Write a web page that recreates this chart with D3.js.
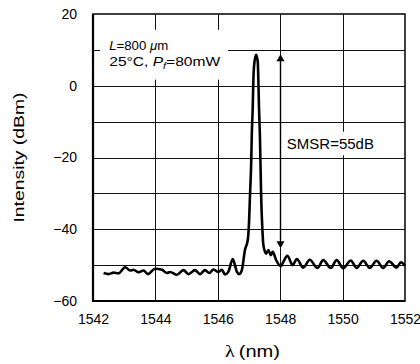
<!DOCTYPE html>
<html>
<head>
<meta charset="utf-8">
<script src="https://cdn.jsdelivr.net/npm/d3@7"></script>
<style>
  body { margin: 0; background: #fff; }
  text { font-family: Arial, "Liberation Sans", sans-serif; fill: #000; }
</style>
</head>
<body>
<div id="chart"></div>
<script>
// Spectrum
const wavelength = [
  1542.34, 1542.50, 1542.66, 1542.82, 1543.03, 1543.19, 1543.30, 1543.46, 1543.62, 1543.76,
  1543.99, 1544.21, 1544.37, 1544.47, 1544.69, 1544.90, 1545.06, 1545.27, 1545.43, 1545.59,
  1545.73, 1545.86, 1546.02, 1546.13, 1546.23, 1546.34, 1546.48, 1546.55, 1546.61, 1546.69,
  1546.77, 1546.87, 1546.96, 1547.00, 1547.03, 1547.07, 1547.09, 1547.12, 1547.14, 1547.17,
  1547.23, 1547.28, 1547.30, 1547.32, 1547.35, 1547.39, 1547.43, 1547.46, 1547.55, 1547.62,
  1547.70, 1547.76, 1547.87, 1548.02, 1548.10, 1548.23, 1548.40, 1548.53, 1548.74, 1548.95,
  1549.19, 1549.38, 1549.62, 1549.81, 1550.02, 1550.26, 1550.45, 1550.66, 1550.87, 1551.09,
  1551.30, 1551.49, 1551.73, 1551.87, 1552.00
];
const intensity = [
  -52.2, -52.5, -52.1, -52.3, -50.6, -51.5, -51.3, -52.0, -51.5, -52.5,
  -51.0, -51.3, -52.2, -51.9, -52.7, -51.4, -52.5, -51.4, -52.5, -51.4,
  -52.2, -51.2, -51.9, -51.3, -52.6, -51.8, -48.3, -50.0, -51.8, -52.5,
  -51.4, -45.8, -43.0, -38.3, -31.0, -21.6, -13.5, -5.9, 1.6, 6.2,
  8.6, 6.7, 1.6, -5.9, -14.0, -31.0, -40.2, -44.4, -46.8, -45.8,
  -47.2, -46.3, -48.6, -50.3, -49.1, -47.4, -50.0, -48.3, -50.7, -48.5,
  -50.8, -48.6, -50.8, -48.6, -50.9, -48.7, -50.8, -48.8, -50.8, -48.8,
  -50.8, -48.9, -50.7, -49.2, -50.2
];
const xTicks = [1542, 1544, 1546, 1548, 1550, 1552];
const yTicks = [20, 0, -20, -40, -60];
const yGrid = [10, 0, -10, -20, -30, -40, -50];
const xGrid = [1544, 1546, 1548, 1550];
const smsr = { lambda: 1548, top: 8.8, bottom: -45.3, label: "SMSR=55dB" };

const margin = { top: 14, right: 15, bottom: 63, left: 93 };
const width = 420 - margin.left - margin.right;
const height = 364 - margin.top - margin.bottom;

const root = d3.select("#chart")
    .append("svg")
    .attr("width", 420)
    .attr("height", 364);

const svg = root.append("g")
    .attr("transform", `translate(${margin.left},${margin.top})`);

const x = d3.scaleLinear().domain([1542, 1552]).range([0, width]);
const y = d3.scaleLinear().domain([-60, 20]).range([height, 0]);

// Grid
svg.selectAll(".hg")
    .data(yGrid)
    .enter()
    .append("line")
    .attr("x1", 0).attr("x2", width)
    .attr("y1", d => Math.round(y(d)) + 0.5)
    .attr("y2", d => Math.round(y(d)) + 0.5)
    .attr("stroke", "#111")
    .attr("stroke-width", 1);

svg.selectAll(".vg")
    .data(xGrid)
    .enter()
    .append("line")
    .attr("y1", 0).attr("y2", height)
    .attr("x1", d => Math.round(x(d)) + 0.5)
    .attr("x2", d => Math.round(x(d)) + 0.5)
    .attr("stroke", "#111")
    .attr("stroke-width", 1);

// White boxes behind the notes
svg.append("rect")
    .attr("x", x(1542.23)).attr("y", y(15.6))
    .attr("width", x(1546.33) - x(1542.23))
    .attr("height", y(1.7) - y(15.6))
    .attr("fill", "#fff");

svg.append("rect")
    .attr("x", x(1548.15)).attr("y", y(-12.8))
    .attr("width", x(1551.1) - x(1548.15))
    .attr("height", y(-19.4) - y(-12.8))
    .attr("fill", "#fff");

// Axes (labels only, grid does the ticks)
const xAxis = svg.append("g")
    .attr("transform", `translate(0,${height})`)
    .call(d3.axisBottom(x).tickValues(xTicks).tickSize(0).tickPadding(13).tickFormat(d3.format("d")));
xAxis.select(".domain").remove();
xAxis.selectAll("text").style("font-size", "14px").style("font-family", "Arial, 'Liberation Sans', sans-serif");

const yAxis = svg.append("g")
    .call(d3.axisLeft(y).tickValues(yTicks).tickSize(0).tickPadding(16));
yAxis.select(".domain").remove();
yAxis.selectAll("text").style("font-size", "14px").style("font-family", "Arial, 'Liberation Sans', sans-serif");

// Frame
svg.append("rect")
    .attr("x", 0).attr("y", 0)
    .attr("width", width).attr("height", height)
    .attr("fill", "none")
    .attr("stroke", "#000")
    .attr("stroke-width", 1.5);
svg.append("path")
    .attr("d", `M0,0V${height}H${width}`)
    .attr("fill", "none")
    .attr("stroke", "#000")
    .attr("stroke-width", 2.2);

// Spectrum
const line = d3.line()
    .x((d, i) => x(wavelength[i]))
    .y(d => y(d))
    .curve(d3.curveMonotoneX);

svg.append("path")
    .datum(intensity)
    .attr("d", line)
    .attr("fill", "none")
    .attr("stroke", "#000")
    .attr("stroke-width", 2.6)
    .attr("stroke-linejoin", "round");

// SMSR arrow
const ax = Math.round(x(smsr.lambda)) + 0.5;
svg.append("line")
    .attr("x1", ax).attr("x2", ax)
    .attr("y1", y(smsr.top) + 4).attr("y2", y(smsr.bottom) - 4)
    .attr("stroke", "#000").attr("stroke-width", 1.4);
svg.append("path")
    .attr("d", `M${ax},${y(smsr.top)}l-4,7h8z`)
    .attr("fill", "#000");
svg.append("path")
    .attr("d", `M${ax},${y(smsr.bottom)}l-4,-7h8z`)
    .attr("fill", "#000");

svg.append("text")
    .attr("x", x(1548.15) + 2)
    .attr("y", y(-17.7))
    .attr("textLength", 87)
    .attr("lengthAdjust", "spacingAndGlyphs")
    .style("font-size", "14px")
    .text(smsr.label);

// Condition note
const n1 = svg.append("text")
    .attr("x", x(1542.52))
    .attr("y", y(10.0))
    .attr("textLength", 59)
    .attr("lengthAdjust", "spacingAndGlyphs")
    .style("font-size", "13px");
n1.append("tspan").style("font-style", "italic").text("L");
n1.append("tspan").text("=800 ");
n1.append("tspan").style("font-style", "italic").text("\u03bc");
n1.append("tspan").text("m");

const n2 = svg.append("text")
    .attr("x", x(1542.52))
    .attr("y", y(5.5))
    .attr("textLength", 111)
    .attr("lengthAdjust", "spacingAndGlyphs")
    .style("font-size", "13px");
n2.append("tspan").text("25\u00b0C, ");
n2.append("tspan").style("font-style", "italic").text("P");
n2.append("tspan").style("font-style", "italic").style("font-size", "9px").attr("dy", 3).text("f");
n2.append("tspan").attr("dy", -3).text("=80mW");

// Axis titles
root.append("text")
    .attr("transform", `translate(24,${margin.top + height / 2}) rotate(-90)`)
    .attr("text-anchor", "middle")
    .attr("textLength", 130)
    .attr("lengthAdjust", "spacingAndGlyphs")
    .style("font-size", "15px")
    .text("Intensity (dBm)");

const xt = root.append("text")
    .attr("x", 225)
    .attr("y", 357)
    .attr("textLength", 55)
    .attr("lengthAdjust", "spacingAndGlyphs")
    .style("font-size", "17px");
xt.append("tspan").style("font-family", "'Liberation Serif', 'DejaVu Serif', serif").text("\u03bb");
xt.append("tspan").text("\u2009(nm)");
</script>
</body>
</html>
